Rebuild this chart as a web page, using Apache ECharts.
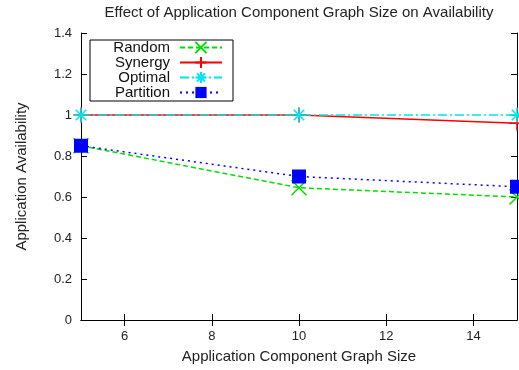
<!DOCTYPE html>
<html>
<head>
<meta charset="utf-8">
<script src="https://cdn.jsdelivr.net/npm/echarts@6/dist/echarts.min.js"></script>
<style>
  html, body { margin: 0; padding: 0; background: #fff; }
  #chart { width: 519px; height: 370px; }
</style>
</head>
<body>
<div id="chart"></div>
<script>
// Graph sizes on the x axis
const graphSizes = [5, 10, 15];
const xTicks = [6, 8, 10, 12, 14];

// Availability for each placement strategy
const randomVals = [0.85, 0.645, 0.60];
const synergyVals = [1.0, 1.0, 0.96];
const optimalVals = [1.0, 1.0, 1.0];
const partitionVals = [0.85, 0.70, 0.65];

const FONT = 'Liberation Sans, Arial, Helvetica, sans-serif';

// Stroke-only marker outlines
const SYM_X = 'path://M0,0L10,10M10,0L0,10';
const SYM_PLUS = 'path://M5,0L5,10M0,5L10,5';
const SYM_STAR = 'path://M5,0L5,10M0,5L10,5M1.5,1.5L8.5,8.5M8.5,1.5L1.5,8.5';

function pairs(vals) {
  return graphSizes.map((x, i) => [x, vals[i]]);
}

function strokeSeries(name, vals, color, lineType, symbol) {
  return {
    name, type: 'line', data: pairs(vals),
    symbol, symbolSize: 15, showAllSymbol: true,
    lineStyle: { color, width: 1.5, type: lineType },
    itemStyle: { color: 'rgba(0,0,0,0)', borderColor: color, borderWidth: 1.5 },
    emphasis: { disabled: true },
    animation: false
  };
}

const chart = echarts.init(document.getElementById('chart'), null, { renderer: 'canvas' });

const tickCommon = { inside: true, length: 6, lineStyle: { color: '#000', width: 1 } };

chart.setOption({
  backgroundColor: '#fff',
  animation: false,
  title: {
    text: 'Effect of Application Component Graph Size on Availability',
    left: 294, top: 0, textAlign: 'center',
    textStyle: { fontFamily: FONT, fontSize: 15, fontWeight: 'normal', color: '#222' }
  },
  grid: { left: 81, right: 2, top: 33, bottom: 50 },
  legend: {
    orient: 'vertical', left: 90, top: 40,
    align: 'right', itemWidth: 42, itemHeight: 14, itemGap: 0,
    padding: [0, 10, 1, 5],
    borderColor: '#000', borderWidth: 1,
    formatter: '{n|{name}}',
    textStyle: {
      fontFamily: FONT, fontSize: 15, color: '#111', lineHeight: 14,
      rich: {
        n: {
          fontFamily: FONT, fontSize: 15, color: '#111', lineHeight: 14,
          width: 75, align: 'right', padding: [0, 5, 0, 0]
        }
      }
    },
    data: ['Random', 'Synergy', 'Optimal', 'Partition']
  },
  xAxis: [{
    type: 'value', min: 5, max: 15,
    name: 'Application Component Graph Size', nameLocation: 'middle', nameGap: 29,
    nameTextStyle: { fontFamily: FONT, fontSize: 15, color: '#222' },
    axisLine: { lineStyle: { color: '#000', width: 1 } },
    axisTick: Object.assign({ customValues: xTicks }, tickCommon),
    axisLabel: { customValues: xTicks, fontFamily: FONT, fontSize: 13, color: '#222', margin: 10 },
    splitLine: { show: false }
  }, {
    type: 'value', min: 5, max: 15, position: 'top',
    axisLine: { lineStyle: { color: '#000', width: 1 } },
    axisTick: Object.assign({ customValues: xTicks }, tickCommon),
    axisLabel: { show: false },
    splitLine: { show: false }
  }],
  yAxis: [{
    type: 'value', min: 0, max: 1.4, interval: 0.2,
    name: 'Application Availability', nameLocation: 'middle', nameGap: 52,
    nameTextStyle: { fontFamily: FONT, fontSize: 15, color: '#222' },
    axisLine: { show: true, lineStyle: { color: '#000', width: 1 } },
    axisTick: Object.assign({ show: true }, tickCommon),
    axisLabel: {
      fontFamily: FONT, fontSize: 13, color: '#222', margin: 9,
      formatter: v => String(Math.round(v * 10) / 10)
    },
    splitLine: { show: false }
  }, {
    type: 'value', min: 0, max: 1.4, interval: 0.2, position: 'right',
    axisLine: { show: true, lineStyle: { color: '#000', width: 1 } },
    axisTick: Object.assign({ show: true }, tickCommon),
    axisLabel: { show: false },
    splitLine: { show: false }
  }],
  series: [
    strokeSeries('Random', randomVals, '#00dd00', [5, 3], SYM_X),
    strokeSeries('Synergy', synergyVals, '#ff0000', 'solid', SYM_PLUS),
    strokeSeries('Optimal', optimalVals, '#00e5ee', [9, 3, 2, 3], SYM_STAR),
    {
      name: 'Partition', type: 'line', data: pairs(partitionVals),
      symbol: 'rect', symbolSize: 14, showAllSymbol: true,
      lineStyle: { color: '#0000ff', width: 1.5, type: [2, 4] },
      itemStyle: { color: '#0000ff' },
      emphasis: { disabled: true },
      animation: false
    }
  ]
});
</script>
</body>
</html>
